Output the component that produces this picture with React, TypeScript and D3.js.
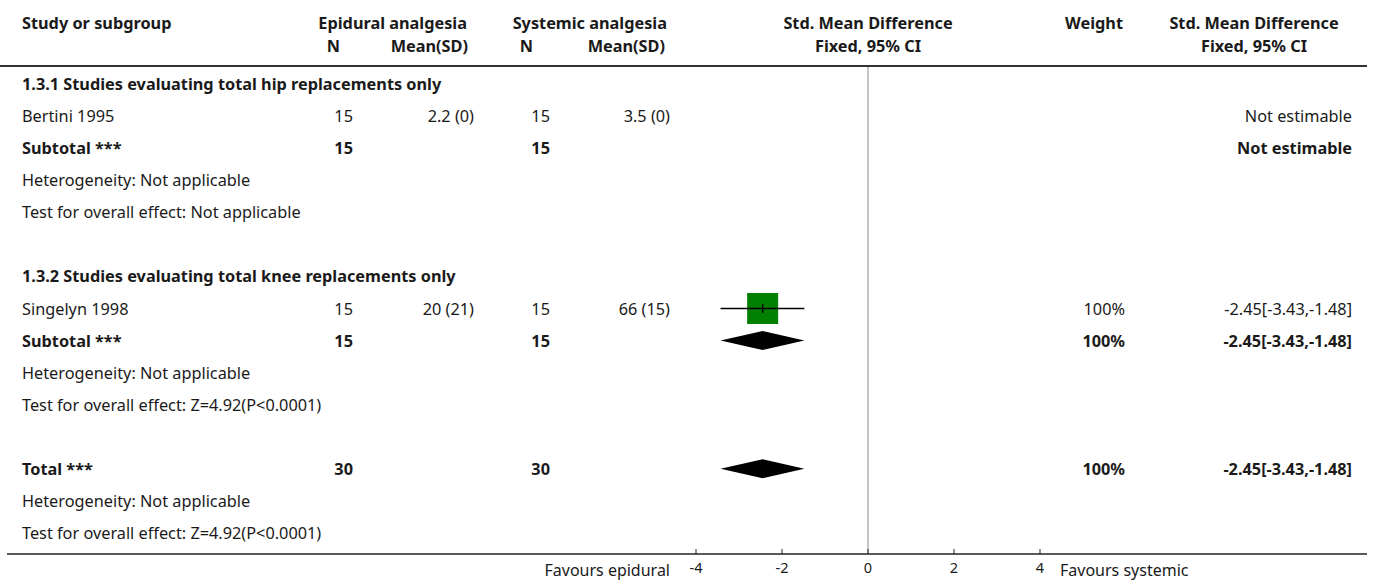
import React from "react";
import * as d3 from "d3";

// Forest plot: epidural vs systemic analgesia, Std. Mean Difference (Fixed, 95% CI)

const studyNames = ["Bertini 1995", "Singelyn 1998"];
const studyGroups = [0, 1];
const epiN = [15, 15];
const epiMean = ["2.2", "20"];
const epiSD = ["0", "21"];
const sysN = [15, 15];
const sysMean = ["3.5", "66"];
const sysSD = ["0", "15"];
const studySMD: (number | null)[] = [null, -2.45];
const studyLo: (number | null)[] = [null, -3.43];
const studyHi: (number | null)[] = [null, -1.48];
const studyWeight: (number | null)[] = [null, 100];

const groupTitles = [
  "1.3.1 Studies evaluating total hip replacements only",
  "1.3.2 Studies evaluating total knee replacements only",
];
const groupEpiN = [15, 15];
const groupSysN = [15, 15];
const groupSMD: (number | null)[] = [null, -2.45];
const groupLo: (number | null)[] = [null, -3.43];
const groupHi: (number | null)[] = [null, -1.48];
const groupWeight: (number | null)[] = [null, 100];
const groupHeterogeneity = ["Not applicable", "Not applicable"];
const groupTest = ["Not applicable", "Z=4.92(P<0.0001)"];

const totalEpiN = 30;
const totalSysN = 30;
const totalSMD = -2.45;
const totalLo = -3.43;
const totalHi = -1.48;
const totalWeight = 100;
const totalHeterogeneity = "Not applicable";
const totalTest = "Z=4.92(P<0.0001)";

const axisTicks = [-4, -2, 0, 2, 4];
const leftLabel = "Favours epidural";
const rightLabel = "Favours systemic";

const FONT = "'Noto Sans', sans-serif";
const FS = 16.3;
const INK = "#1a1a1a";

type Row =
  | { kind: "group"; label: string }
  | { kind: "study"; i: number }
  | { kind: "subtotal"; label: string; en: number; sn: number; smd: number | null; lo: number | null; hi: number | null; w: number | null }
  | { kind: "text"; label: string }
  | { kind: "blank" };

// plain hyphen-minus, as printed in the table
const locale = d3.formatLocale({ decimal: ".", thousands: ",", grouping: [3], currency: ["", ""], minus: "-" });
const fmt2 = locale.format(".2f");
const fmtTick = locale.format("d");
const ciText = (m: number | null, lo: number | null, hi: number | null) =>
  m == null || lo == null || hi == null ? "Not estimable" : `${fmt2(m)}[${fmt2(lo)},${fmt2(hi)}]`;

function buildRows(): Row[] {
  const rows: Row[] = [];
  groupTitles.forEach((title, g) => {
    rows.push({ kind: "group", label: title });
    studyNames.forEach((_, i) => {
      if (studyGroups[i] === g) rows.push({ kind: "study", i });
    });
    rows.push({
      kind: "subtotal",
      label: "Subtotal ***",
      en: groupEpiN[g],
      sn: groupSysN[g],
      smd: groupSMD[g],
      lo: groupLo[g],
      hi: groupHi[g],
      w: groupWeight[g],
    });
    rows.push({ kind: "text", label: `Heterogeneity: ${groupHeterogeneity[g]}` });
    rows.push({ kind: "text", label: `Test for overall effect: ${groupTest[g]}` });
    rows.push({ kind: "blank" });
  });
  rows.push({
    kind: "subtotal",
    label: "Total ***",
    en: totalEpiN,
    sn: totalSysN,
    smd: totalSMD,
    lo: totalLo,
    hi: totalHi,
    w: totalWeight,
  });
  rows.push({ kind: "text", label: `Heterogeneity: ${totalHeterogeneity}` });
  rows.push({ kind: "text", label: `Test for overall effect: ${totalTest}` });
  return rows;
}

export default function App() {
  const width = 1375;
  const height = 581;
  const rows = buildRows();

  const x = d3.scaleLinear().domain([-4, 4]).range([696, 1040]);
  const rowY = d3.scaleLinear().domain([0, rows.length - 1]).range([90, 539]);

  const col = {
    name: 22,
    epiN: 353,
    epiMean: 474,
    sysN: 550,
    sysMean: 670,
    weight: 1125,
    ci: 1352,
  };

  const headerLineY = 66;
  const axisY = 554;

  const maxBox = 31;
  const boxSize = (w: number) => maxBox * Math.sqrt(w / 100);
  const diamondH = 19;

  const diamond = (m: number, lo: number, hi: number, cy: number) => {
    const p = d3.path();
    p.moveTo(x(lo), cy);
    p.lineTo(x(m), cy - diamondH / 2);
    p.lineTo(x(hi), cy);
    p.lineTo(x(m), cy + diamondH / 2);
    p.closePath();
    return p.toString();
  };

  const txt = (
    key: string,
    xx: number,
    yy: number,
    s: string,
    anchor: "start" | "middle" | "end" = "start",
    bold = false,
    size = FS
  ) => (
    <text
      key={key}
      x={xx}
      y={yy}
      textAnchor={anchor}
      fontWeight={bold ? 700 : 400}
      fontSize={size}
      fontFamily={FONT}
      fill={INK}
    >
      {s}
    </text>
  );

  return (
    <svg
      width={width}
      height={height}
      style={{ position: "absolute", left: 0, top: 0, background: "#fff" }}
    >
      {/* column headers */}
      {txt("h-study", col.name, 29, "Study or subgroup", "start", true)}
      {txt("h-epi", 467, 29, "Epidural analgesia", "end", true)}
      {txt("h-sys", 667, 29, "Systemic analgesia", "end", true)}
      {txt("h-smd", x(0), 29, "Std. Mean Difference", "middle", true)}
      {txt("h-w", 1123, 29, "Weight", "end", true)}
      {txt("h-smd2", 1254, 29, "Std. Mean Difference", "middle", true)}
      {txt("h-en", 340, 52, "N", "end", true)}
      {txt("h-em", 468, 52, "Mean(SD)", "end", true)}
      {txt("h-sn", 533, 52, "N", "end", true)}
      {txt("h-sm", 665, 52, "Mean(SD)", "end", true)}
      {txt("h-fx", x(0), 52, "Fixed, 95% CI", "middle", true)}
      {txt("h-fx2", 1254, 52, "Fixed, 95% CI", "middle", true)}

      <line x1={0} x2={1367} y1={headerLineY} y2={headerLineY} stroke="#333" strokeWidth={2} />

      {/* line of no effect */}
      <line x1={x(0)} x2={x(0)} y1={headerLineY + 1} y2={axisY} stroke="#8a8a8a" strokeWidth={1} />

      {rows.map((r, i) => {
        const y = rowY(i);
        const cy = y - 6;
        if (r.kind === "group") return <g key={i}>{txt("g", col.name, y, r.label, "start", true)}</g>;
        if (r.kind === "text") return <g key={i}>{txt("t", col.name, y, r.label)}</g>;
        if (r.kind === "blank") return null;
        if (r.kind === "study") {
          const k = r.i;
          const m = studySMD[k];
          const lo = studyLo[k];
          const hi = studyHi[k];
          const w = studyWeight[k];
          const s = w != null ? boxSize(w) : 0;
          return (
            <g key={i}>
              {txt("n", col.name, y, studyNames[k])}
              {txt("en", col.epiN, y, String(epiN[k]), "end")}
              {txt("em", col.epiMean, y, `${epiMean[k]} (${epiSD[k]})`, "end")}
              {txt("sn", col.sysN, y, String(sysN[k]), "end")}
              {txt("sm", col.sysMean, y, `${sysMean[k]} (${sysSD[k]})`, "end")}
              {w != null && txt("w", col.weight, y, `${w}%`, "end")}
              {txt("ci", col.ci, y, ciText(m, lo, hi), "end")}
              {m != null && lo != null && hi != null && w != null && (
                <g>
                  <rect x={x(m) - s / 2} y={cy - s / 2} width={s} height={s} fill="#008000" />
                  <line x1={x(lo)} x2={x(hi)} y1={cy} y2={cy} stroke="#000" strokeWidth={1.6} />
                  <line x1={x(m)} x2={x(m)} y1={cy - 4.5} y2={cy + 4.5} stroke="#000" strokeWidth={1.4} />
                </g>
              )}
            </g>
          );
        }
        // subtotal / total
        return (
          <g key={i}>
            {txt("l", col.name, y, r.label, "start", true)}
            {txt("en", col.epiN, y, String(r.en), "end", true)}
            {txt("sn", col.sysN, y, String(r.sn), "end", true)}
            {r.w != null && txt("w", col.weight, y, `${r.w}%`, "end", true)}
            {txt("ci", col.ci, y, ciText(r.smd, r.lo, r.hi), "end", true)}
            {r.smd != null && r.lo != null && r.hi != null && (
              <path d={diamond(r.smd, r.lo, r.hi, cy)} fill="#000" />
            )}
          </g>
        );
      })}

      {/* bottom axis */}
      <line x1={7} x2={1367} y1={axisY} y2={axisY} stroke="#222" strokeWidth={1.5} />
      {axisTicks.map((t) => (
        <g key={t}>
          <line x1={x(t)} x2={x(t)} y1={axisY} y2={axisY - 5} stroke="#222" strokeWidth={1} />
          {txt(`tk${t}`, x(t), 573, fmtTick(t), "middle", false, 14.5)}
        </g>
      ))}
      {txt("fl", 670, 576, leftLabel, "end", false, 16)}
      {txt("fr", 1060, 576, rightLabel, "start", false, 16)}
    </svg>
  );
}
